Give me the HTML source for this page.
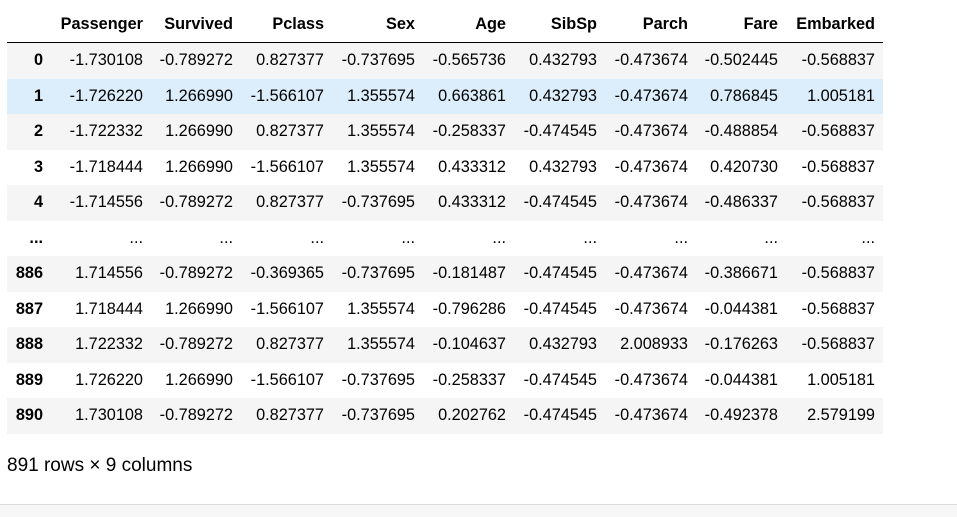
<!DOCTYPE html>
<html><head><meta charset="utf-8"><style>
body{margin:0;width:957px;height:516px;background:#fff;font-family:"Liberation Sans",Arial,sans-serif;color:#000;position:relative;overflow:hidden}
.row{position:absolute;left:7px;width:876px;height:35.5px}
.c{position:absolute;font-size:16.3px;line-height:35.5px;text-align:right;white-space:nowrap}
.h{font-weight:bold}
</style></head><body>
<div id="tbl"></div>
<div style="position:absolute;left:7px;top:455px;font-size:19px">891 rows × 9 columns</div>
<div style="position:absolute;left:0;top:504px;width:957px;height:12px;background:#f7f7f7;border-top:1px solid #ddd"></div>
<script>
const columns=["Passenger","Survived","Pclass","Sex","Age","SibSp","Parch","Fare","Embarked"];
const indexLabels=["0","1","2","3","4","...","886","887","888","889","890"];
const rows=[
["-1.730108","-0.789272","0.827377","-0.737695","-0.565736","0.432793","-0.473674","-0.502445","-0.568837"],
["-1.726220","1.266990","-1.566107","1.355574","0.663861","0.432793","-0.473674","0.786845","1.005181"],
["-1.722332","1.266990","0.827377","1.355574","-0.258337","-0.474545","-0.473674","-0.488854","-0.568837"],
["-1.718444","1.266990","-1.566107","1.355574","0.433312","0.432793","-0.473674","0.420730","-0.568837"],
["-1.714556","-0.789272","0.827377","-0.737695","0.433312","-0.474545","-0.473674","-0.486337","-0.568837"],
["...","...","...","...","...","...","...","...","..."],
["1.714556","-0.789272","-0.369365","-0.737695","-0.181487","-0.474545","-0.473674","-0.386671","-0.568837"],
["1.718444","1.266990","-1.566107","1.355574","-0.796286","-0.474545","-0.473674","-0.044381","-0.568837"],
["1.722332","-0.789272","0.827377","1.355574","-0.104637","0.432793","2.008933","-0.176263","-0.568837"],
["1.726220","1.266990","-1.566107","-0.737695","-0.258337","-0.474545","-0.473674","-0.044381","1.005181"],
["1.730108","-0.789272","0.827377","-0.737695","0.202762","-0.474545","-0.473674","-0.492378","2.579199"]];
const rights=[43,143,233,324,415,506,597,688,778,875];
const tbl=document.getElementById('tbl');
function cell(parent,txt,right,bold){const d=document.createElement('div');d.className='c'+(bold?' h':'');d.style.right=(883-right)+'px';d.textContent=txt;parent.appendChild(d);return d;}
const hd=document.createElement('div');hd.className='row';hd.style.top='6.5px';hd.style.height='35.5px';hd.style.borderBottom='1px solid #000';


tbl.appendChild(hd);
columns.forEach((c,i)=>{const d=cell(hd,c,rights[i+1],true);

});
rows.forEach((r,i)=>{const rw=document.createElement('div');rw.className='row';rw.style.top=(43+i*35.5)+'px';
rw.style.background=i===1?'#dceefb':(i%2===0?'#f5f5f5':'#fff');


tbl.appendChild(rw);
const ix=cell(rw,indexLabels[i],rights[0],true);


r.forEach((v,j)=>{const d=cell(rw,v,rights[j+1],false);

});});
</script>
</body></html>
